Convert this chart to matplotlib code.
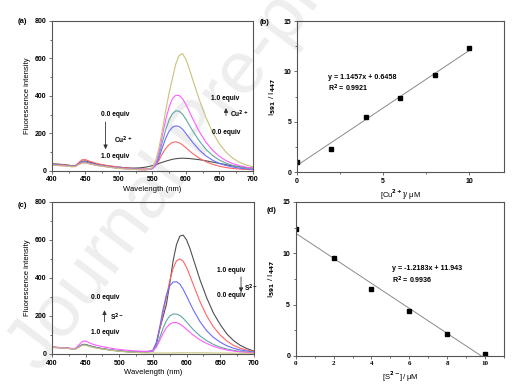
import matplotlib
matplotlib.use("Agg")
import matplotlib.pyplot as plt
import numpy as np
from matplotlib.ticker import MultipleLocator

plt.rcParams['font.family'] = ['Liberation Sans', 'DejaVu Sans']
plt.rcParams['font.weight'] = 'bold'
plt.rcParams['mathtext.default'] = 'bf'

# ---- spectra (wavelength grid, nm) ----
wl = [400, 410, 420, 430, 435, 440, 445, 450, 455, 460, 470, 480, 490, 500, 510, 520, 530, 540,
      550, 555, 560, 565, 570, 575, 580, 585, 590, 595, 600, 605, 610,
      620, 630, 640, 650, 660, 670, 680, 690, 700]

# panel (a): Cu2+ titration
a_black = [38, 36, 33, 28, 29, 40, 52, 53, 48, 43, 35, 29, 24, 20, 17, 15, 16, 20,
           28, 33, 40, 46, 52, 57, 62, 65, 67, 68, 67, 66, 64,
           60, 54, 47, 40, 33, 27, 22, 18, 15]
a_red = [36, 34, 31, 27, 28, 45, 60, 60, 53, 47, 37, 30, 25, 20, 16, 13, 11, 10,
         14, 30, 58, 92, 120, 140, 152, 155, 150, 139, 124, 108, 93,
         68, 49, 35, 25, 18, 13, 10, 8, 6]
a_blue = [33, 31, 29, 25, 26, 38, 48, 48, 43, 38, 31, 25, 20, 16, 13, 11, 9, 8,
          12, 30, 70, 125, 175, 212, 233, 240, 237, 222, 200, 176, 153,
          112, 80, 57, 40, 29, 21, 15, 11, 8]
a_teal = [32, 30, 28, 24, 25, 36, 45, 45, 40, 36, 29, 24, 19, 15, 12, 10, 8, 7,
          12, 35, 85, 155, 220, 272, 305, 320, 318, 302, 276, 245, 215,
          160, 115, 82, 58, 41, 29, 21, 15, 11]
a_mag = [31, 29, 27, 23, 24, 35, 43, 43, 39, 35, 28, 23, 18, 14, 11, 9, 7, 6,
         12, 38, 100, 190, 275, 340, 385, 403, 402, 385, 355, 318, 280,
         210, 153, 110, 78, 55, 39, 28, 20, 14]
a_olive = [30, 28, 26, 22, 23, 34, 42, 42, 38, 34, 27, 22, 17, 13, 10, 8, 6, 5,
           18, 55, 125, 220, 325, 415, 495, 570, 615, 625, 595, 545, 490,
           380, 285, 205, 145, 100, 68, 46, 32, 22]

# panel (c): S2- titration
c_black = [36, 34, 32, 28, 28, 38, 50, 50, 44, 39, 31, 25, 20, 16, 13, 11, 10, 10,
           15, 50, 130, 195, 260, 370, 490, 575, 620, 625, 600, 555, 500,
           390, 295, 215, 155, 105, 70, 45, 28, 15]
c_red = [36, 34, 32, 28, 28, 38, 50, 50, 44, 39, 31, 25, 20, 16, 13, 11, 10, 10,
         18, 55, 130, 215, 300, 385, 450, 490, 500, 488, 455, 412, 365,
         275, 200, 142, 100, 68, 45, 30, 20, 13]
c_blue = [35, 33, 31, 27, 27, 37, 48, 48, 43, 38, 30, 25, 20, 16, 13, 11, 10, 10,
          20, 60, 140, 235, 310, 358, 378, 380, 368, 340, 305, 268, 232,
          170, 122, 87, 62, 43, 30, 21, 15, 10]
c_teal = [35, 33, 31, 27, 27, 37, 48, 48, 43, 38, 30, 25, 20, 16, 13, 11, 10, 10,
          15, 40, 85, 135, 175, 200, 210, 210, 203, 188, 168, 148, 128,
          95, 70, 50, 36, 26, 19, 14, 10, 8]
c_mag = [36, 34, 32, 28, 30, 48, 66, 68, 60, 52, 42, 35, 29, 24, 20, 17, 15, 14,
         16, 35, 70, 108, 138, 157, 165, 165, 158, 145, 130, 114, 99,
         74, 55, 40, 29, 21, 15, 11, 8, 6]
c_olive = [34, 32, 30, 26, 26, 35, 45, 45, 40, 35, 28, 23, 18, 14, 11, 9, 7, 6,
           5, 5, 5, 5, 5, 5, 5, 6, 6, 6, 6, 6, 6,
           6, 6, 5, 5, 5, 4, 4, 4, 3]

# ---- ratio plots ----
conc = [0, 2, 4, 6, 8, 10]
ratio_cu = [1.05, 2.3, 5.45, 7.4, 9.65, 12.35]
ratio_s = [12.35, 9.5, 6.55, 4.35, 2.1, 0.15]
fit_cu = (1.1457, 0.6458)
fit_s = (-1.2183, 11.943)

colors = ['#505050', '#ff6666', '#6b6bff', '#5fa8a2', '#ff5cff', '#c9c27c']

fig = plt.figure(figsize=(5.31, 3.92), dpi=100)
# faint watermark of the source page
fig.text(-0.005, 0.06, 'Journal Pre-proof', rotation=53, fontsize=54, color='#eeeeee',
         fontweight='normal', zorder=-1)

ax_a = fig.add_axes([0.098, 0.564, 0.378, 0.383])
ax_b = fig.add_axes([0.559, 0.561, 0.390, 0.385])
ax_c = fig.add_axes([0.098, 0.097, 0.380, 0.388])
ax_d = fig.add_axes([0.557, 0.092, 0.392, 0.393])

tfs = 5
lfs = 5.5
spine_c = '#555555'


def style(ax):
    ax.set_facecolor('none')
    for s in ax.spines.values():
        s.set_color(spine_c)
        s.set_linewidth(0.8)
    ax.tick_params(which='both', direction='out', top=False, right=False,
                   labelsize=tfs, color=spine_c, width=0.6, pad=1.5)
    ax.tick_params(which='major', length=2.5)
    ax.tick_params(which='minor', length=1.5)


def spectra(ax, curves):
    for y, c in zip(curves, colors):
        ax.plot(wl, y, color=c, lw=0.8)
    ax.set_xlim(400, 700)
    ax.set_ylim(0, 800)
    ax.xaxis.set_major_locator(MultipleLocator(50))
    ax.xaxis.set_minor_locator(MultipleLocator(25))
    ax.yaxis.set_major_locator(MultipleLocator(200))
    ax.yaxis.set_minor_locator(MultipleLocator(100))
    ax.set_xlabel('Wavelength (nm)', fontsize=lfs, labelpad=2)
    ax.set_ylabel('Fluorescence intensity', fontsize=lfs, labelpad=3)
    style(ax)


spectra(ax_a, [a_black, a_red, a_blue, a_teal, a_mag, a_olive])
spectra(ax_c, [c_black, c_red, c_blue, c_teal, c_mag, c_olive])

afs = 4.8
arr = dict(arrowstyle='-|>,head_length=0.25,head_width=0.12', color='#333333', lw=0.6)
# (a) annotations
ax_a.text(494, 302, '0.0 equiv', fontsize=afs, ha='center', va='center')
ax_a.annotate('', xy=(480, 100), xytext=(480, 275), arrowprops=arr)
ax_a.text(492, 161, 'Cu$^{2+}$', fontsize=afs, ha='left', va='center')
ax_a.text(494, 79, '1.0 equiv', fontsize=afs, ha='center', va='center')
ax_a.text(658, 388, '1.0 equiv', fontsize=afs, ha='center', va='center')
ax_a.annotate('', xy=(660, 350), xytext=(660, 280), arrowprops=arr)
ax_a.text(666, 304, 'Cu$^{2+}$', fontsize=afs, ha='left', va='center')
ax_a.text(661, 204, '0.0 equiv', fontsize=afs, ha='center', va='center')
# (c) annotations
ax_c.text(479, 296, '0.0 equiv', fontsize=afs, ha='center', va='center')
ax_c.annotate('', xy=(478, 245), xytext=(478, 155), arrowprops=arr)
ax_c.text(486, 193, 'S$^{2-}$', fontsize=afs, ha='left', va='center')
ax_c.text(479, 115, '1.0 equiv', fontsize=afs, ha='center', va='center')
ax_c.text(666, 441, '1.0 equiv', fontsize=afs, ha='center', va='center')
ax_c.annotate('', xy=(681, 310), xytext=(681, 420), arrowprops=arr)
ax_c.text(686, 343, 'S$^{2-}$', fontsize=afs, ha='left', va='center')
ax_c.text(666, 310, '0.0 equiv', fontsize=afs, ha='center', va='center')


def ratio(ax, y, fit, xmax, xlabel):
    xl = np.array([0, 10])
    ax.plot(xl, fit[0] * xl + fit[1], color='#8a8a8a', lw=0.7)
    ax.plot(conc, y, 's', color='black', ms=2.6)
    ax.set_xlim(0, xmax)
    ax.set_ylim(0, 15)
    ax.yaxis.set_major_locator(MultipleLocator(5))
    ax.yaxis.set_minor_locator(MultipleLocator(2.5))
    ax.set_xlabel(xlabel, fontsize=lfs, labelpad=2)
    ax.set_ylabel('I$_{591}$ / I$_{447}$', fontsize=lfs + 0.5, labelpad=4)
    style(ax)


ratio(ax_b, ratio_cu, fit_cu, 12, '[Cu$^{2+}$]/ μM')
ax_b.xaxis.set_major_locator(MultipleLocator(5))
ax_b.xaxis.set_minor_locator(MultipleLocator(2.5))
ax_b.text(1.8, 9.4, 'y = 1.1457x + 0.6458', fontsize=afs + 0.3, va='center')
ax_b.text(1.8, 8.3, 'R$^{2}$ = 0.9921', fontsize=afs + 0.3, va='center')

ratio(ax_d, ratio_s, fit_s, 11, '[S$^{2-}$]/ μM')
ax_d.xaxis.set_major_locator(MultipleLocator(2))
ax_d.xaxis.set_minor_locator(MultipleLocator(1))
for lab in ax_d.get_xticklabels():
    lab.set_family('Liberation Serif')
ax_d.text(5.1, 8.5, 'y = -1.2183x + 11.943', fontsize=afs + 0.3, va='center')
ax_d.text(5.1, 7.4, 'R$^{2}$ = 0.9936', fontsize=afs + 0.3, va='center')

# panel letters
fig.text(0.034, 0.946, '(a)', fontsize=lfs, va='center')
fig.text(0.488, 0.942, '(b)', fontsize=lfs, va='center')
fig.text(0.034, 0.477, '(c)', fontsize=lfs, va='center')
fig.text(0.503, 0.464, '(d)', fontsize=lfs, va='center')

fig.savefig('out.png', dpi=100)
